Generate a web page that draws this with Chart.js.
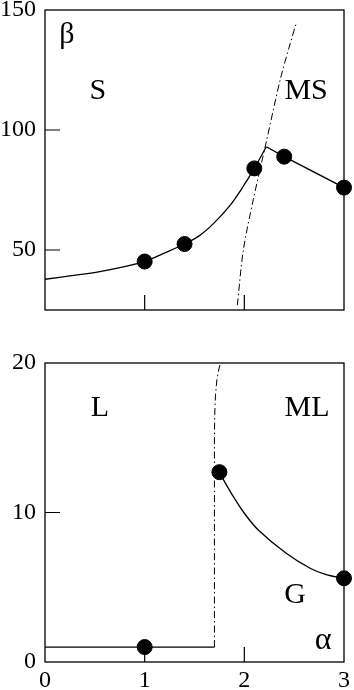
<!DOCTYPE html>
<html>
<head>
<meta charset="utf-8">
<script src="https://cdn.jsdelivr.net/npm/chart.js@4/dist/chart.umd.min.js"></script>
<style>
  html, body { margin: 0; padding: 0; background: #fff; }
  #wrap { position: relative; width: 354px; height: 690px; }
  #top-box { position: absolute; left: 0; top: 0; width: 354px; height: 340px; }
  #bot-box { position: absolute; left: 0; top: 340px; width: 354px; height: 350px; }
</style>
</head>
<body>
<div id="wrap">
  <div id="top-box"><canvas id="chartTop" width="354" height="340"></canvas></div>
  <div id="bot-box"><canvas id="chartBot" width="354" height="350"></canvas></div>
</div>
<script>
// shared alpha axis
const xTicks = [0, 1, 2, 3];

// top panel (beta vs alpha, S / MS)
const topYTicks = [50, 100, 150];
const topCurveAlpha = [0, 0.25, 0.55, 1.0, 1.19, 1.4, 1.55, 1.69, 1.855, 1.99, 2.1, 2.22];
const topCurveBeta  = [37.8, 39.2, 41, 45.2, 48.6, 52.5, 56, 61, 68.5, 76.6, 84, 93];
const topKinkAlpha = [2.22, 2.4, 3.0];
const topKinkBeta  = [93, 88.9, 76];
const topDotAlpha = [1.0, 1.4, 2.1, 2.4, 3.0];
const topDotBeta  = [45.2, 52.5, 84, 88.9, 76];
const topEdgeAlpha = [1.93, 1.99, 2.09, 2.22, 2.36, 2.46, 2.52];
const topEdgeBeta  = [27, 50, 71, 95, 121, 136, 144.4];

// bottom panel (L / ML / G)
const botYTicks = [0, 10, 20];
const botFlatAlpha = [0, 1.7];
const botFlatBeta  = [1, 1];
const botCurveAlpha = [1.75, 1.79, 1.89, 2.0, 2.14, 2.42, 2.66, 2.83, 3.0];
const botCurveBeta  = [12.7, 12.2, 11.06, 9.95, 8.83, 7.27, 6.27, 5.82, 5.6];
const botDotAlpha = [1, 1.75, 3];
const botDotBeta  = [1, 12.7, 5.6];
const botEdgeAlpha = [1.7, 1.7, 1.703, 1.71, 1.725, 1.745, 1.76];
const botEdgeBeta  = [1, 15, 16.5, 17.8, 18.9, 19.6, 20];

const serif = '"Liberation Serif", "Times New Roman", serif';

const pts = (xs, ys) => xs.map((x, i) => ({ x: x, y: ys[i] }));

function solid(xs, ys, tension) {
  return { type: 'line', data: pts(xs, ys), borderColor: '#000', borderWidth: 1.3,
           pointRadius: 0, tension: tension, fill: false };
}
function dashDot(xs, ys, tension) {
  return { type: 'line', data: pts(xs, ys), borderColor: '#000', borderWidth: 1,
           borderDash: [7, 3, 1.5, 3], pointRadius: 0, tension: tension, fill: false };
}
function dots(xs, ys) {
  return { type: 'scatter', data: pts(xs, ys), backgroundColor: '#000', borderColor: '#000',
           pointRadius: 7.5, pointHoverRadius: 7.5, clip: false };
}

// frame + inward ticks
const framePlugin = {
  id: 'frame',
  beforeDatasetsDraw(chart, args, opts) {
    const { ctx, chartArea: a, scales } = chart;
    ctx.save();
    ctx.strokeStyle = '#000';
    ctx.lineWidth = 1.3;
    ctx.strokeRect(a.left, a.top, a.right - a.left, a.bottom - a.top);
    ctx.lineWidth = 1.2;
    ctx.beginPath();
    opts.yInner.forEach(v => {
      const py = scales.y.getPixelForValue(v);
      ctx.moveTo(a.left, py); ctx.lineTo(a.left + 15, py);
    });
    opts.xInner.forEach(v => {
      const px = scales.x.getPixelForValue(v);
      ctx.moveTo(px, a.bottom); ctx.lineTo(px, a.bottom - 15);
    });
    ctx.stroke();
    ctx.restore();
  },
  afterDraw(chart, args, opts) {
    const { ctx, scales } = chart;
    ctx.save();
    ctx.fillStyle = '#000';
    ctx.textAlign = 'center';
    ctx.textBaseline = 'middle';
    opts.labels.forEach(l => {
      ctx.font = l.size + 'px ' + serif;
      ctx.fillText(l.text, scales.x.getPixelForValue(l.x), scales.y.getPixelForValue(l.y));
    });
    ctx.restore();
  }
};

function scalesFor(yMin, yMax, yTicks, showX, xHeight) {
  return {
    x: {
      type: 'linear', min: 0, max: 3,
      afterBuildTicks: s => { s.ticks = xTicks.map(v => ({ value: v })); },
      ticks: { display: showX, color: '#000', font: { family: serif, size: 24 },
               padding: 4, maxRotation: 0, autoSkip: false },
      grid: { display: false, drawTicks: false }, border: { display: false },
      afterFit: s => { s.height = xHeight; s.paddingLeft = 0; s.paddingRight = 0; }
    },
    y: {
      type: 'linear', min: yMin, max: yMax,
      afterBuildTicks: s => { s.ticks = yTicks.map(v => ({ value: v })); },
      ticks: { color: '#000', font: { family: serif, size: 24 }, padding: 9 },
      grid: { display: false, drawTicks: false }, border: { display: false },
      afterFit: s => { s.width = 45; s.paddingTop = 0; s.paddingBottom = 0; }
    }
  };
}

new Chart(document.getElementById('chartTop'), {
  type: 'scatter',
  data: {
    datasets: [
      solid(topCurveAlpha, topCurveBeta, 0.35),
      solid(topKinkAlpha, topKinkBeta, 0),
      dashDot(topEdgeAlpha, topEdgeBeta, 0.3),
      dots(topDotAlpha, topDotBeta)
    ]
  },
  options: {
    responsive: false, animation: false, devicePixelRatio: 1,
    layout: { padding: { top: 10, right: 10, left: 0, bottom: 0 } },
    scales: scalesFor(25, 150, topYTicks, false, 30),
    plugins: {
      legend: { display: false }, tooltip: { enabled: false },
      frame: {
        yInner: [50, 100], xInner: [1, 2],
        labels: [
          { text: 'β', x: 0.22, y: 139.6, size: 30 },
          { text: 'S', x: 0.53, y: 116, size: 30 },
          { text: 'MS', x: 2.62, y: 116, size: 30 }
        ]
      }
    }
  },
  plugins: [framePlugin]
});

new Chart(document.getElementById('chartBot'), {
  type: 'scatter',
  data: {
    datasets: [
      solid(botFlatAlpha, botFlatBeta, 0),
      solid(botCurveAlpha, botCurveBeta, 0.35),
      dashDot(botEdgeAlpha, botEdgeBeta, 0),
      dots(botDotAlpha, botDotBeta)
    ]
  },
  options: {
    responsive: false, animation: false, devicePixelRatio: 1,
    layout: { padding: { top: 23, right: 10, left: 0, bottom: 0 } },
    scales: scalesFor(0, 20, botYTicks, true, 28),
    plugins: {
      legend: { display: false }, tooltip: { enabled: false },
      frame: {
        yInner: [10], xInner: [1, 2],
        labels: [
          { text: 'L', x: 0.55, y: 17.0, size: 30 },
          { text: 'ML', x: 2.63, y: 17.0, size: 30 },
          { text: 'G', x: 2.51, y: 4.5, size: 30 },
          { text: 'α', x: 2.79, y: 1.4, size: 32 }
        ]
      }
    }
  },
  plugins: [framePlugin]
});
</script>
</body>
</html>
